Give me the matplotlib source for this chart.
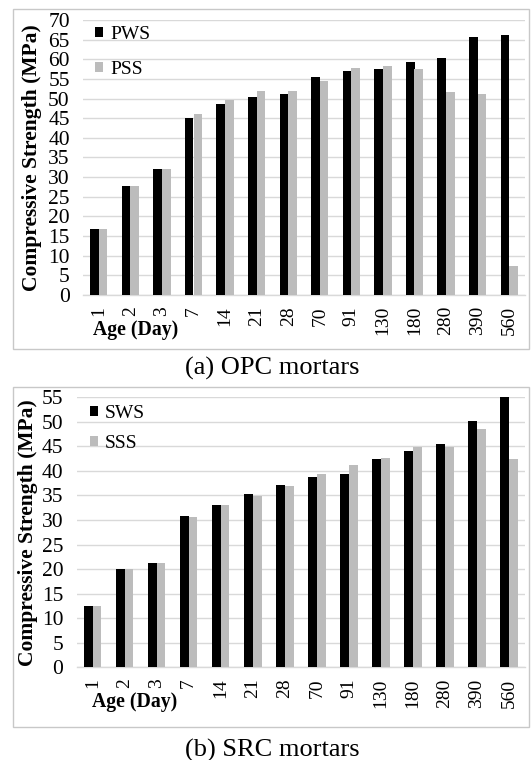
import matplotlib
matplotlib.use("Agg")
import matplotlib.pyplot as plt
import numpy as np
from matplotlib.patches import Rectangle, Patch

plt.rcParams['font.family'] = ['Liberation Serif', 'DejaVu Serif']

ages = ["1", "2", "3", "7", "14", "21", "28", "70", "91", "130", "180", "280", "390", "560"]
pws = [16.7, 27.7, 32.0, 45.0, 48.7, 50.4, 51.1, 55.5, 57.1, 57.4, 59.3, 60.3, 65.7, 66.1]
pss = [16.7, 27.7, 32.0, 46.1, 49.7, 51.9, 52.0, 54.4, 57.8, 58.2, 57.5, 51.7, 51.2, 7.5]
sws = [12.4, 20.0, 21.2, 30.8, 33.1, 35.3, 37.2, 38.7, 39.4, 42.5, 44.1, 45.4, 50.2, 55.0]
sss = [12.4, 20.0, 21.2, 30.6, 33.1, 34.9, 36.9, 39.4, 41.3, 42.6, 44.9, 44.9, 48.5, 42.4]

W, H = 531, 760
fig = plt.figure(figsize=(W / 100, H / 100), dpi=100)

BLACK = "#000000"
GRAY = "#bcbcbc"
GRID = "#d9d9d9"

def panel(rect, s1, s2, n1, n2, ymax, caption, cap_y, border, ylab_x,
          leg_anchor, leg_spacing, age_xy):
    ax = fig.add_axes(rect)
    x = np.arange(len(ages))
    w = 0.275
    ax.bar(x - w / 2, s1, w, color=BLACK, label=n1, zorder=3)
    ax.bar(x + w / 2, s2, w, color=GRAY, label=n2, zorder=3)
    ax.set_xlim(-0.5, len(ages) - 0.5)
    ax.set_ylim(0, ymax)
    ax.set_yticks(np.arange(0, ymax + 1, 5))
    ax.set_xticks(x)
    ax.set_xticklabels(ages, rotation=90, fontsize=14)
    ax.tick_params(axis='y', labelsize=15.5, length=0, pad=9.5)
    ax.tick_params(axis='x', length=0, pad=8)
    ax.yaxis.grid(True, color=GRID, linewidth=1.0, zorder=0)
    ax.set_axisbelow(True)
    for s in ['top', 'right', 'left']:
        ax.spines[s].set_visible(False)
    ax.spines['bottom'].set_color(GRID)
    ax.spines['bottom'].set_linewidth(1.0)
    ax.set_ylabel("Compressive Strength (MPa)", fontsize=15.5, fontweight='bold')
    ax.yaxis.set_label_coords(ylab_x, 0.5)
    ax.text(age_xy[0], age_xy[1], "Age (Day)", transform=ax.transAxes, fontsize=14.2,
            fontweight='bold', ha='left', va='center')
    handles = [Patch(facecolor=BLACK, edgecolor='none', label=n1),
               Patch(facecolor=GRAY, edgecolor='none', label=n2)]
    ax.legend(handles=handles, loc='upper left', bbox_to_anchor=leg_anchor,
              frameon=False, fontsize=14, handlelength=0.42, handleheight=0.42,
              handletextpad=0.35, labelspacing=leg_spacing, borderaxespad=0,
              borderpad=0)
    bx0, by0, bx1, by1 = border
    fig.patches.append(Rectangle((bx0 / W, 1 - by1 / H), (bx1 - bx0) / W, (by1 - by0) / H,
                                 transform=fig.transFigure, fill=False,
                                 edgecolor="#c8c8c8", linewidth=1.0))
    fig.text(272 / W, 1 - cap_y / H, caption, ha='center', va='center', fontsize=19)
    return ax

panel([83 / W, 1 - 295 / H, 442 / W, 275 / H], pws, pss, "PWS", "PSS", 70,
      "(a) OPC mortars", 368, (13, 9, 529, 349), -0.093,
      (0.027, 0.979), 0.95, (0.023, -0.127))
panel([76.5 / W, 1 - 667.3 / H, 448.5 / W, 270 / H], sws, sss, "SWS", "SSS", 55,
      "(b) SRC mortars", 750, (13, 387, 529, 727), -0.086,
      (0.030, 0.973), 0.7, (0.035, -0.128))

fig.savefig("out.png", dpi=100)
